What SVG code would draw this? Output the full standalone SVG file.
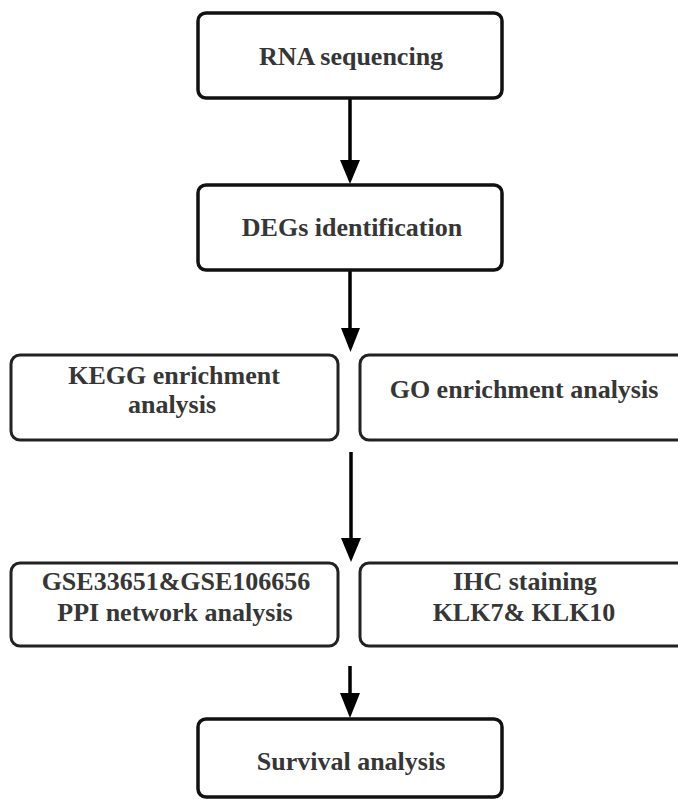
<svg xmlns="http://www.w3.org/2000/svg" width="678" height="799" viewBox="0 0 678 799">
<style>
.box{fill:#fff;stroke:#111;stroke-width:3.5}
.box2{fill:#fff;stroke:#222;stroke-width:3}
.t{font-family:"Liberation Serif","Times New Roman",serif;font-weight:bold;font-size:26px;fill:#363636;text-anchor:middle}
.c{stroke:#000;stroke-width:3.5;fill:none}
</style>
<rect width="678" height="799" fill="#fff"/>
<g id="connectors">
<line class="c" x1="350" y1="98" x2="350" y2="160"/>
<path d="M340,160 L360,160 L350,184 Z" fill="#000"/>
<line class="c" x1="350" y1="270" x2="350" y2="328"/>
<path d="M341,328 L360,328 L350.5,352 Z" fill="#000"/>
<line class="c" x1="351" y1="452" x2="351" y2="538"/>
<path d="M341,538 L361,538 L351,562 Z" fill="#000"/>
<line class="c" x1="350" y1="666" x2="350" y2="693"/>
<path d="M340,693 L360,693 L350,718 Z" fill="#000"/>
</g>
<g id="rna">
<rect class="box" x="198" y="13" width="304" height="85" rx="8"/>
<text class="t" x="351" y="65">RNA sequencing</text>
</g>
<g id="degs">
<rect class="box" x="198" y="185" width="304" height="85" rx="8"/>
<text class="t" x="352" y="236">DEGs identification</text>
</g>
<g id="kegg">
<rect class="box2" x="11" y="355" width="327" height="85" rx="9"/>
<text class="t" x="174" y="384">KEGG enrichment</text>
<text class="t" x="172" y="413">analysis</text>
</g>
<g id="go">
<rect class="box2" x="360" y="355" width="330" height="85" rx="9"/>
<text class="t" x="524" y="398">GO enrichment analysis</text>
</g>
<g id="gse">
<rect class="box2" x="11" y="563" width="327" height="83" rx="9"/>
<text class="t" x="176" y="590">GSE33651&amp;GSE106656</text>
<text class="t" x="175" y="621">PPI network analysis</text>
</g>
<g id="ihc">
<rect class="box2" x="360" y="563" width="330" height="83" rx="9"/>
<text class="t" x="525" y="590">IHC staining</text>
<text class="t" x="524" y="621">KLK7&amp; KLK10</text>
</g>
<g id="survival">
<rect class="box" x="198" y="719" width="304" height="78" rx="8"/>
<text class="t" x="351" y="770">Survival analysis</text>
</g>
</svg>
